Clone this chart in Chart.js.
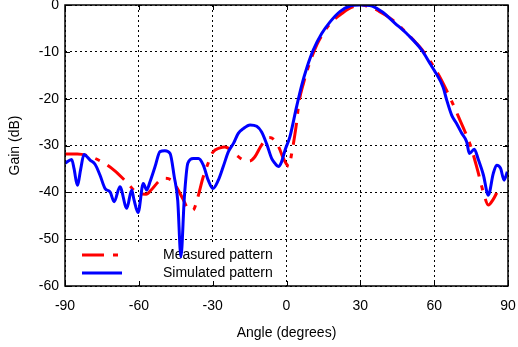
<!DOCTYPE html>
<html><head><meta charset="utf-8">
<script src="https://cdn.jsdelivr.net/npm/chart.js@4/dist/chart.umd.min.js"></script>
<style>html,body{margin:0;padding:0;background:#fff;}#wrap{width:518px;height:347px;}</style>
</head><body><div id="wrap"><canvas id="c" width="518" height="347"></canvas></div>
<script>
const xTicks = [-90, -60, -30, 0, 30, 60, 90];
const yTicks = [-60, -50, -40, -30, -20, -10, 0];
const seriesLabels = ['Measured pattern', 'Simulated pattern'];

const measuredAngles = [-90,-85,-80,-75,-70,-65,-60,-57,-55,-52,-50,-47,-45,-42,-40,-38,-36,-34,-32,-30,-27,-25,-22,-20,-17,-15,-13,-10,-7,-5,-3,-1.5,0,1,2,3,4,5,7,10,12.5,15,17.5,20,22.5,25,27.5,30,32.5,35,37.5,40,42.5,45,47.5,50,52.5,55,57.5,60,62.5,65,67.5,70,72.5,75,77.5,80,82,84,86];
const measuredGain = [-31.8,-31.8,-32.3,-33.5,-35.3,-37.8,-40.3,-40.4,-39.5,-37.7,-37,-37.3,-38.6,-41.5,-43.5,-43.8,-41,-37,-34,-31.5,-30.5,-30.3,-31.2,-32.2,-33.2,-33.3,-32.5,-29.8,-28.3,-28.8,-30.5,-32.5,-34,-34.5,-32,-29,-25.5,-21,-16.5,-11.5,-8.3,-6,-4.1,-2.8,-1.8,-0.9,-0.3,0,-0.2,-0.6,-1.3,-2.1,-3,-4,-5.3,-6.6,-8,-9.5,-11.3,-13.3,-15.6,-18.2,-21,-24,-27,-30.4,-35,-40,-42.7,-41.5,-39.5];

const simulatedAngles = [-90,-87.3,-86.3,-85,-83.6,-82.3,-79.8,-77.8,-75.8,-73.7,-71.7,-70,-67.7,-64.9,-62.9,-62,-60.3,-58.2,-56.8,-55.5,-53.4,-51.4,-49.4,-47.3,-45.6,-44.2,-42.9,-41.5,-40.1,-37.9,-35.8,-33.8,-31.8,-29.9,-27.7,-25.7,-23.6,-21.6,-19.6,-17.6,-14.8,-12.1,-10.1,-8.1,-6,-4.7,-3.3,-2,-0.6,1.4,4.1,6.2,8.2,10.9,14.3,17.7,21.7,25.8,29.9,33.9,38.7,44.1,49.4,54.9,58.3,60.3,63.6,65.1,67.1,69.1,71.2,73.2,74.3,76.3,78,80,82,84,85.4,87,88.4,89.7];
const simulatedGain = [-33.8,-33,-35,-38.5,-35,-31.9,-33.1,-34,-36.3,-39.2,-39.9,-42,-38.8,-43.4,-39.5,-41.5,-44.3,-38.1,-39.5,-37.8,-34.5,-31.3,-31.1,-31.7,-36.7,-41.7,-53.8,-41,-33.8,-32.8,-32.8,-34.2,-37.4,-39.2,-37.4,-34.5,-31.3,-29.6,-27.4,-26.4,-25.6,-25.9,-27.1,-29.6,-32.8,-33.8,-34.5,-33.5,-31,-28.1,-21.7,-17.1,-13.5,-9.6,-6.1,-3.6,-1.4,-0.2,0,-0.1,-1.4,-3.9,-6.4,-9.6,-12.5,-14.2,-17.5,-20.3,-23.5,-25.3,-27.4,-29.2,-31.7,-30.8,-33.1,-36.3,-40.6,-36,-34.2,-34.9,-37.4,-35.6];

const FONT = "'Liberation Sans', Arial, Helvetica, sans-serif";
const FONT_SIZE = 14;
const RED_DASH = [22, 9, 5, 9];

function pts(xs, ys) { return xs.map((x, i) => ({x: x, y: ys[i]})); }

const framePlugin = {
  id: 'frame',
  beforeDatasetsDraw(chart) {
    const {ctx, chartArea: a} = chart;
    ctx.save();
    ctx.fillStyle = '#fff';
    ctx.fillRect(a.left + 1, a.bottom - 44, 215, 43);
    ctx.lineWidth = 3;
    ctx.strokeStyle = chart.data.datasets[0].borderColor;
    ctx.setLineDash(RED_DASH);
    ctx.beginPath(); ctx.moveTo(a.left + 17, a.bottom - 31); ctx.lineTo(a.left + 57, a.bottom - 31); ctx.stroke();
    ctx.setLineDash([]);
    ctx.strokeStyle = chart.data.datasets[1].borderColor;
    ctx.beginPath(); ctx.moveTo(a.left + 17, a.bottom - 13); ctx.lineTo(a.left + 57, a.bottom - 13); ctx.stroke();
    ctx.fillStyle = '#000';
    ctx.font = FONT_SIZE + 'px ' + FONT;
    ctx.textBaseline = 'middle';
    ctx.textAlign = 'left';
    ctx.fillText(seriesLabels[0], a.left + 98, a.bottom - 31);
    ctx.fillText(seriesLabels[1], a.left + 98, a.bottom - 13);
    ctx.restore();
  },
  afterDraw(chart) {
    const {ctx, chartArea: a, scales} = chart;
    ctx.save();
    ctx.strokeStyle = '#000';
    ctx.lineWidth = 1;
    ctx.beginPath();
    xTicks.forEach(t => {
      const px = Math.round(scales.x.getPixelForValue(t)) + 0.5;
      ctx.moveTo(px, a.bottom); ctx.lineTo(px, a.bottom - 5);
      ctx.moveTo(px, a.top); ctx.lineTo(px, a.top + 5);
    });
    yTicks.forEach(t => {
      const py = Math.round(scales.y.getPixelForValue(t)) + 0.5;
      ctx.moveTo(a.left, py); ctx.lineTo(a.left + 5, py);
      ctx.moveTo(a.right, py); ctx.lineTo(a.right - 5, py);
    });
    ctx.stroke();
    ctx.lineWidth = 1.5;
    ctx.strokeRect(a.left, a.top, a.right - a.left, a.bottom - a.top);
    ctx.restore();
  }
};

new Chart(document.getElementById('c'), {
  type: 'line',
  data: {
    datasets: [
      {
        label: seriesLabels[0],
        data: pts(measuredAngles, measuredGain),
        borderColor: '#ff0000',
        borderWidth: 3,
        borderDash: RED_DASH,
        pointRadius: 0,
        cubicInterpolationMode: 'monotone',
        fill: false,
        order: 1
      },
      {
        label: seriesLabels[1],
        data: pts(simulatedAngles, simulatedGain),
        borderColor: '#0000ff',
        borderWidth: 3,
        pointRadius: 0,
        cubicInterpolationMode: 'monotone',
        fill: false,
        order: 0
      }
    ]
  },
  options: {
    responsive: false,
    animation: false,
    devicePixelRatio: 1,
    layout: { padding: { top: 5, right: 10, left: 0, bottom: 0 } },
    plugins: { legend: { display: false }, tooltip: { enabled: false } },
    scales: {
      x: {
        type: 'linear',
        min: -90, max: 90,
        afterBuildTicks: s => { s.ticks = xTicks.map(v => ({value: v})); },
        afterFit: s => { s.height = 61; s.paddingLeft = 0; s.paddingRight = 0; },
        grid: { color: '#000', lineWidth: 1, drawTicks: false },
        border: { display: false, dash: [2, 3] },
        ticks: { color: '#000', font: { family: FONT, size: FONT_SIZE }, padding: 12, maxRotation: 0 },
        title: { display: true, text: 'Angle (degrees)', color: '#000', font: { family: FONT, size: FONT_SIZE }, padding: { top: 0, bottom: 5 } }
      },
      y: {
        type: 'linear',
        min: -60, max: 0,
        afterBuildTicks: s => { s.ticks = yTicks.map(v => ({value: v})); },
        afterFit: s => { s.width = 65; s.paddingTop = 0; s.paddingBottom = 0; },
        grid: { color: '#000', lineWidth: 1, drawTicks: false },
        border: { display: false, dash: [2, 3] },
        ticks: { color: '#000', font: { family: FONT, size: FONT_SIZE }, padding: 6 },
        title: { display: true, text: 'Gain (dB)', color: '#000', font: { family: FONT, size: FONT_SIZE }, padding: { top: 7, bottom: 0 } }
      }
    }
  },
  plugins: [framePlugin]
});
</script>
</body></html>
